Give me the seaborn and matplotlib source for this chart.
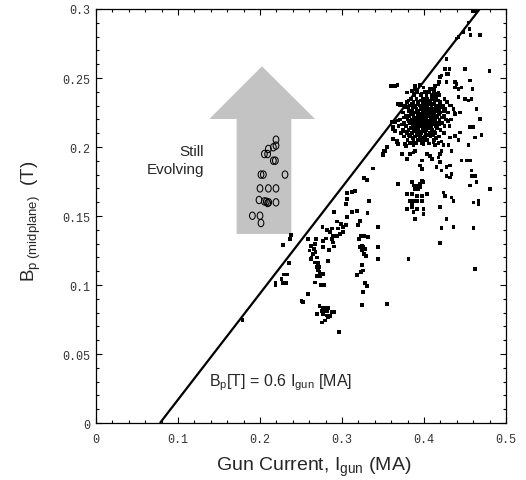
import numpy as np
import pandas as pd
import matplotlib
matplotlib.use("Agg")
import matplotlib.pyplot as plt
import seaborn as sns
from matplotlib.path import Path
from matplotlib.transforms import Affine2D
from matplotlib.ticker import MultipleLocator, FixedLocator, FixedFormatter

# ---------------- data ----------------
# filled squares: measured shots (x = gun current MA, y = Bp T)
sq_x_outer = [0.1785, 0.219, 0.219, 0.2277, 0.2313, 0.2264, 0.2285, 0.2333, 0.2354, 0.2277, 0.2362, 0.2374,
              0.3516, 0.3504, 0.3382, 0.3268, 0.3301, 0.3333, 0.3118, 0.3159, 0.3065, 0.3057, 0.3049,
              0.3118, 0.3179, 0.3309, 0.3057, 0.2902, 0.2935, 0.2984, 0.3016, 0.3049, 0.2955, 0.3016,
              0.2976, 0.2935, 0.2874, 0.2854, 0.2813, 0.2764, 0.2894, 0.2874, 0.2894, 0.2902, 0.2845,
              0.2772, 0.2772, 0.2805, 0.2683, 0.2671, 0.2659, 0.2675, 0.2618, 0.2602, 0.2589, 0.2630,
              0.2671, 0.2691, 0.2711, 0.2724, 0.2691, 0.2732, 0.2772, 0.2740, 0.2780, 0.2671, 0.2618,
              0.2643, 0.2691, 0.2833, 0.2707, 0.2724, 0.2752, 0.2589, 0.2528, 0.2508,
              0.2724, 0.2772, 0.2805, 0.2833, 0.2793, 0.2821, 0.2874, 0.2902, 0.2699, 0.2772, 0.2813,
              0.2854, 0.2752, 0.2752, 0.2793, 0.2967, 0.2833,
              0.3220, 0.3199, 0.3228, 0.3252, 0.3268, 0.3211, 0.3240, 0.3220, 0.3260, 0.3280, 0.3240,
              0.3268, 0.3293, 0.3240, 0.3260, 0.3228, 0.3280, 0.3301, 0.3252, 0.3240, 0.3321, 0.3443,
              0.3443, 0.3443, 0.3179, 0.3545, 0.3545]
sq_y_outer = [0.0746, 0.1000, 0.1015, 0.1015, 0.1015, 0.1043, 0.1077, 0.1077, 0.1157, 0.1292, 0.1333, 0.1362,
              0.1973, 0.1942, 0.1845, 0.1773, 0.1763, 0.1611, 0.1676, 0.1683, 0.1667, 0.1623, 0.1587,
              0.1531, 0.1534, 0.1522, 0.1495, 0.1527, 0.1459, 0.1442, 0.1418, 0.1435, 0.1410, 0.1386,
              0.1370, 0.1353, 0.1410, 0.1386, 0.1401, 0.1418, 0.1357, 0.1333, 0.1309, 0.1280, 0.1254,
              0.1273, 0.1321, 0.1338, 0.1333, 0.1297, 0.1261, 0.1237, 0.1285, 0.1249, 0.1333, 0.1200,
              0.1164, 0.1128, 0.1104, 0.1092, 0.1067, 0.1067, 0.1080, 0.1000, 0.1000, 0.1019, 0.1188,
              0.1225, 0.1200, 0.1176, 0.1159, 0.1128, 0.1080, 0.0935, 0.0879, 0.0882,
              0.0850, 0.0838, 0.0838, 0.0831, 0.0814, 0.0807, 0.0802, 0.0802, 0.0790, 0.0790, 0.0778,
              0.0773, 0.0814, 0.0729, 0.0742, 0.0657, 0.0766,
              0.1466, 0.1435, 0.1357, 0.1353, 0.1357, 0.1333, 0.1285, 0.1273, 0.1273, 0.1261, 0.1249,
              0.1225, 0.1212, 0.1145, 0.1104, 0.1092, 0.1014, 0.0995, 0.0951, 0.0855, 0.1346, 0.1418,
              0.1273, 0.1188, 0.1072, 0.0862, 0.1998]

sq_x_mid = [0.3667, 0.3687, 0.3768, 0.3780, 0.3829, 0.3870, 0.3890, 0.3972, 0.3992, 0.4114, 0.4134, 0.4175,
            0.4215, 0.4236, 0.4297, 0.4419, 0.4541, 0.3504, 0.3524, 0.3728, 0.3789, 0.3829, 0.3870, 0.3890,
            0.3972, 0.3951, 0.3972, 0.4033, 0.4073, 0.4094, 0.4175, 0.4195, 0.4215, 0.4337, 0.4195, 0.4154,
            0.4215, 0.4276, 0.4317, 0.4337, 0.4276, 0.4317, 0.4459, 0.4520, 0.4561, 0.4581, 0.4622, 0.3687,
            0.3850, 0.3870, 0.3911, 0.3951, 0.3972, 0.3992, 0.3890, 0.3931, 0.3951, 0.3789, 0.3850, 0.3911,
            0.3972, 0.4033, 0.3829, 0.3870, 0.3911, 0.3972, 0.3850, 0.3789, 0.3850, 0.3911, 0.3870, 0.3992,
            0.3992, 0.3890, 0.4195, 0.4236, 0.4256, 0.4337, 0.4358, 0.4561, 0.4581, 0.4602, 0.4663, 0.4663,
            0.4276, 0.4358, 0.4642,
            0.4622, 0.4195, 0.3809, 0.4805, 0.4215, 0.4602, 0.4703]
sq_y_mid = [0.2034, 0.2022, 0.2022, 0.2005, 0.2029, 0.2014, 0.2029, 0.2039, 0.2022, 0.2034, 0.2014, 0.2029,
            0.2039, 0.2014, 0.2014, 0.2051, 0.2014, 0.1949, 0.1973, 0.1949, 0.1913, 0.1949, 0.1961, 0.1973,
            0.1901, 0.1865, 0.1841, 0.1949, 0.1937, 0.1913, 0.1925, 0.1949, 0.1973, 0.1973, 0.1889, 0.1853,
            0.1829, 0.1853, 0.1865, 0.1804, 0.1792, 0.1780, 0.1901, 0.1901, 0.1901, 0.1829, 0.1792, 0.1732,
            0.1744, 0.1720, 0.1720, 0.1732, 0.1756, 0.1744, 0.1696, 0.1696, 0.1708, 0.1659, 0.1659, 0.1647,
            0.1647, 0.1659, 0.1611, 0.1611, 0.1611, 0.1611, 0.1587, 0.1551, 0.1563, 0.1551, 0.1527, 0.1551,
            0.1515, 0.1478, 0.1563, 0.1671, 0.1647, 0.1635, 0.1611, 0.1720, 0.1792, 0.1599, 0.1611, 0.1587,
            0.1478, 0.1418, 0.1744,
            0.1116, 0.1302, 0.1188, 0.1696, 0.1411, 0.1411, 0.2087]

sq_x_top = [0.4309, 0.4297, 0.4378, 0.4419, 0.3675, 0.3707, 0.3646, 0.3626, 0.3789, 0.3850, 0.3890, 0.3992,
            0.4073, 0.4134, 0.4175, 0.4276, 0.4276, 0.4256, 0.4276, 0.4215, 0.4195, 0.4187, 0.3890, 0.3646,
            0.3687, 0.4500, 0.4797, 0.4561, 0.4593, 0.4459, 0.4398, 0.4378, 0.4581, 0.4541, 0.4500, 0.4642,
            0.4683, 0.4622, 0.4317, 0.4358, 0.4378, 0.4439, 0.4419, 0.4602, 0.4561, 0.4439, 0.4378, 0.4317,
            0.4593, 0.4622, 0.4642, 0.4541, 0.4553, 0.4569, 0.4683, 0.4480, 0.4419, 0.4398,
            0.3606, 0.3626, 0.3646, 0.3618, 0.3687, 0.3595, 0.3951, 0.4126, 0.4175, 0.4134, 0.3720, 0.3667]
sq_y_top = [0.2565, 0.2529, 0.2432, 0.2420, 0.2449, 0.2300, 0.2179, 0.2130, 0.2396, 0.2408, 0.2420, 0.2432,
            0.2420, 0.2444, 0.2456, 0.2469, 0.2638, 0.2565, 0.2529, 0.2517, 0.2505, 0.2469, 0.2444, 0.2440,
            0.2312, 0.2565, 0.2553, 0.2481, 0.2420, 0.2432, 0.2457, 0.2469, 0.2348, 0.2336, 0.2348, 0.2275,
            0.2203, 0.2070, 0.2300, 0.2275, 0.2239, 0.2251, 0.2360, 0.2143, 0.2143, 0.2106, 0.2082, 0.2070,
            0.2981, 0.2981, 0.3000, 0.2903, 0.2855, 0.2812, 0.2812, 0.2831, 0.2795, 0.2787,
            0.2179, 0.2143, 0.2118, 0.2058, 0.2191, 0.2444, 0.2449, 0.2420, 0.2396, 0.2372, 0.2312, 0.2046]

# dense core of the main cluster, listed row by row (B value, then the I values on that row)
core_rows_y = [0.240, 0.2388, 0.2375, 0.235, 0.2338, 0.2325, 0.2313, 0.230, 0.2288, 0.2275, 0.2263, 0.225,
               0.2238, 0.2225, 0.2213, 0.220, 0.2188, 0.2175, 0.2163, 0.215, 0.2138, 0.2125, 0.2113,
               0.210, 0.2088, 0.2075, 0.2063, 0.205, 0.2025]
core_rows_x = [
    [0.392, 0.401, 0.406, 0.412],
    [0.397, 0.415],
    [0.388, 0.396, 0.403, 0.409, 0.418],
    [0.384, 0.391, 0.399, 0.404, 0.410, 0.415, 0.425],
    [0.381, 0.396, 0.405, 0.417],
    [0.379, 0.387, 0.393, 0.398, 0.402, 0.407, 0.413, 0.420, 0.428],
    [0.385, 0.392, 0.406, 0.411, 0.419],
    [0.376, 0.383, 0.389, 0.395, 0.400, 0.404, 0.409, 0.416, 0.423, 0.433],
    [0.378, 0.388, 0.398, 0.403, 0.414, 0.421],
    [0.381, 0.386, 0.391, 0.396, 0.401, 0.406, 0.411, 0.418, 0.426],
    [0.382, 0.393, 0.399, 0.409, 0.416, 0.424],
    [0.374, 0.384, 0.389, 0.393, 0.398, 0.403, 0.407, 0.412, 0.420, 0.429, 0.437],
    [0.386, 0.395, 0.402, 0.408, 0.418],
    [0.378, 0.382, 0.387, 0.392, 0.396, 0.400, 0.405, 0.410, 0.415, 0.424],
    [0.376, 0.389, 0.397, 0.401, 0.411, 0.416, 0.422],
    [0.371, 0.380, 0.385, 0.390, 0.394, 0.399, 0.403, 0.408, 0.413, 0.419, 0.427, 0.433],
    [0.381, 0.393, 0.404, 0.409, 0.414, 0.429],
    [0.376, 0.383, 0.388, 0.392, 0.397, 0.401, 0.406, 0.411, 0.417, 0.422],
    [0.373, 0.386, 0.394, 0.399, 0.407, 0.413, 0.419],
    [0.369, 0.378, 0.386, 0.390, 0.395, 0.400, 0.404, 0.409, 0.415, 0.425, 0.431],
    [0.384, 0.391, 0.401, 0.406, 0.416],
    [0.374, 0.381, 0.388, 0.393, 0.398, 0.403, 0.410, 0.420],
    [0.377, 0.389, 0.395, 0.400, 0.412],
    [0.372, 0.379, 0.385, 0.391, 0.396, 0.402, 0.407, 0.414, 0.424],
    [0.382, 0.393, 0.404, 0.411],
    [0.376, 0.383, 0.389, 0.395, 0.401, 0.408, 0.418],
    [0.386, 0.397, 0.415],
    [0.380, 0.387, 0.393, 0.399, 0.404, 0.412],
    [0.384, 0.391, 0.397, 0.406],
]

# open circles: "still evolving" shots
circ_x = [0.2195, 0.2195, 0.2163, 0.2102, 0.2093, 0.2053, 0.2187, 0.2163, 0.2012, 0.2041, 0.2305, 0.2000,
          0.2102, 0.2195, 0.1988, 0.2053, 0.2077, 0.2093, 0.2106, 0.2195, 0.1907, 0.2000, 0.2012]
circ_y = [0.2053, 0.2010, 0.1998, 0.1986, 0.1949, 0.1949, 0.1901, 0.1901, 0.1800, 0.1800, 0.1800, 0.1700,
          0.1700, 0.1700, 0.1616, 0.1606, 0.1604, 0.1594, 0.1599, 0.1599, 0.1502, 0.1502, 0.1449]

# reference line (as drawn)
line_x = [0.078, 0.468]
line_y = [0.0, 0.300]

# arrow outline (data units)
arrow_x = [0.1715, 0.2382, 0.2382, 0.2671, 0.2024, 0.1382, 0.1715]
arrow_y = [0.1370, 0.1370, 0.2203, 0.2203, 0.2585, 0.2203, 0.2203]

x_ticks = [0, 0.1, 0.2, 0.3, 0.4, 0.5]
x_labels = ["0", "0.1", "0.2", "0.3", "0.4", "0.5"]
y_ticks = [0, 0.05, 0.1, 0.15, 0.2, 0.25, 0.3]
y_labels = ["0", "0.05", "0.1", "0.15", "0.2", "0.25", "0.3"]

# ---------------- assemble ----------------
core_x = [x for row in core_rows_x for x in row]
core_y = [y for y, row in zip(core_rows_y, core_rows_x) for _ in row]
sq = pd.DataFrame({"I": sq_x_outer + sq_x_mid + sq_x_top + core_x,
                   "B": sq_y_outer + sq_y_mid + sq_y_top + core_y})
circ = pd.DataFrame({"I": circ_x, "B": circ_y})

sns.set_style("ticks")
plt.rcParams["font.family"] = ["Liberation Sans", "DejaVu Sans"]
plt.rcParams["mathtext.fontset"] = "custom"
plt.rcParams["mathtext.rm"] = "Liberation Sans"
plt.rcParams["mathtext.it"] = "Liberation Sans:italic"

fig = plt.figure(figsize=(5.26, 4.81), dpi=100)
ax = fig.add_axes([0.18251, 0.11850, 0.77947, 0.86071])

ax.fill(arrow_x, arrow_y, color="#c3c3c3", lw=0, zorder=1)
ax.plot(line_x, line_y, color="black", lw=1.6, zorder=2, solid_capstyle="butt")

sns.scatterplot(data=sq, x="I", y="B", marker="s", s=7, color="black",
                edgecolor="none", linewidth=0, ax=ax, zorder=3)

ell = Path.unit_circle().transformed(Affine2D().scale(0.78, 1.0))
sns.scatterplot(data=circ, x="I", y="B", marker=ell, s=28, facecolor="none",
                edgecolor="black", linewidth=0.75, ax=ax, zorder=4)

ax.set_xlim(0, 0.5)
ax.set_ylim(0, 0.3)
ax.xaxis.set_major_locator(FixedLocator(x_ticks))
ax.xaxis.set_major_formatter(FixedFormatter(x_labels))
ax.yaxis.set_major_locator(FixedLocator(y_ticks))
ax.yaxis.set_major_formatter(FixedFormatter(y_labels))
ax.xaxis.set_minor_locator(MultipleLocator(0.02))
ax.yaxis.set_minor_locator(MultipleLocator(0.01))
ax.tick_params(which="both", direction="in", top=True, right=True, width=0.8, color="black")
ax.tick_params(which="major", length=4.5)
ax.tick_params(which="minor", length=2.5)
ax.tick_params(axis="x", which="major", pad=7)
ax.tick_params(axis="y", which="major", pad=4)
for lab in ax.get_xticklabels() + ax.get_yticklabels():
    lab.set_fontfamily("Liberation Mono")
    lab.set_fontsize(8.5)
    lab.set_color("#333333")
for s in ax.spines.values():
    s.set_linewidth(0.9)
    s.set_color("black")

ax.set_xlabel(r"Gun Current, I$_{\mathregular{gun}}$ (MA)", fontsize=14)
ax.set_ylabel(r"B$_{\mathregular{p\ (midplane)}}$  (T)", fontsize=13.5)
ax.xaxis.set_label_coords(0.53, -0.078)
ax.yaxis.set_label_coords(-0.13, 0.49)

ax.text(0.1317, 0.1905, "Still\nEvolving", ha="right", va="center", multialignment="right",
        fontsize=11, linespacing=1.3)
ax.text(0.1382, 0.027, r"B$_{\mathregular{p}}$[T] = 0.6 I$_{\mathregular{gun}}$ [MA]",
        ha="left", va="baseline", fontsize=11.5)

fig.savefig("out.png", dpi=100)
